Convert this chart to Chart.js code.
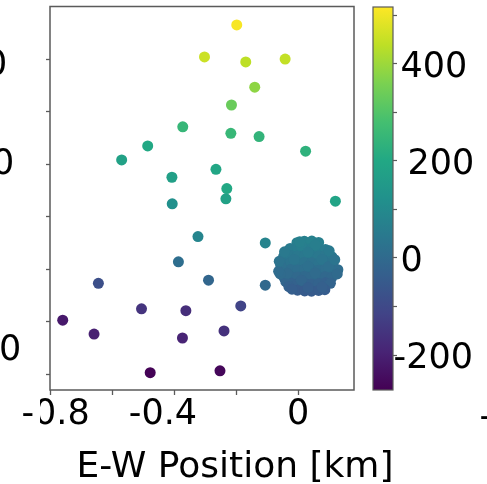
<!DOCTYPE html>
<html lang="en">
<head>
<meta charset="utf-8">
<title>E-W Position</title>
<script src="https://cdn.jsdelivr.net/npm/chart.js@4.4.1/dist/chart.umd.min.js"></script>
<style>
  html, body { margin: 0; padding: 0; background: #fff; }
  body { position: relative; width: 487px; height: 484px; overflow: hidden; font-family: "DejaVu Sans", sans-serif; color: #000; }
  canvas { position: absolute; left: 0; top: 0; }
  .txt { position: absolute; white-space: pre; line-height: 1; font-size: 35px; }
</style>
</head>
<body>
<canvas id="scatter" width="487" height="484"></canvas>
<canvas id="cbar" width="487" height="484"></canvas>

<!-- edges of the neighbouring panels' labels -->
<div class="txt" style="left:-15px; top:46px">0</div>
<div class="txt" style="left:-8px; top:145px">0</div>
<div class="txt" style="left:-1px; top:331px">0</div>
<div class="txt" style="left:479.5px; top:397.5px">-</div>
<div style="position:absolute; left:36px; top:397px; width:4px; height:35px; background:#fff"></div>

<div class="txt" style="left:235px; top:446.5px; font-size:36px; transform:translateX(-50%)">E-W Position [km]</div>

<script>
// outlying events: east, north (km) and colour value
const farX = [-0.198, -0.302, -0.169, -0.042, -0.140, -0.215, -0.372, -0.217, -0.126, 0.024,
              -0.485, -0.569, -0.265, -0.407, -0.230, -0.233, -0.406, 0.120, -0.323, -0.106,
              -0.386, -0.289, -0.106, -0.644, -0.185, -0.505, -0.362, -0.759, -0.239, -0.658,
              -0.373, -0.477, -0.252];
const farY = [0.930, 0.808, 0.789, 0.800, 0.693, 0.625, 0.542, 0.517, 0.505, 0.449,
              0.469, 0.416, 0.380, 0.350, 0.307, 0.268, 0.249, 0.259, 0.124, 0.100,
              0.028, -0.042, -0.061, -0.054, -0.140, -0.151, -0.158, -0.194, -0.235, -0.247,
              -0.262, -0.394, -0.387];
const farVal = [510, 455, 438, 445, 383, 335, 250, 252, 240, 232,
                200, 178, 193, 170, 200, 178, 120, 186, 85, 83,
                12, -12, -4, -83, -114, -154, -169, -217, -162, -201,
                -193, -268, -258];

// the dense cloud around the origin
const coreX = [-0.004, 0.020, 0.044, 0.066,
               -0.026, -0.002, 0.021, 0.043, 0.066, 0.088,
               -0.047, -0.024, -0.002, 0.021, 0.043, 0.066, 0.088, 0.109,
               -0.050, -0.024, -0.002, 0.021, 0.043, 0.066, 0.088, 0.112,
               -0.052, -0.024, -0.002, 0.021, 0.043, 0.066, 0.088, 0.113,
               -0.046, -0.024, -0.002, 0.021, 0.043, 0.066, 0.088, 0.108,
               -0.024, -0.002, 0.021, 0.043, 0.066, 0.088,
               -0.002, 0.021, 0.043, 0.066,
               0.128, 0.126, -0.056, -0.044, -0.040, 0.104, 0.100, 0.086,
               0.010, 0.055, 0.032, 0.077, -0.013, 0.032, 0.055, 0.010, 0.077, -0.035, 0.098, 0.032,
               -0.058, -0.030, 0.118, 0.005, -0.063, -0.061, -0.020];
const coreY = [0.101, 0.106, 0.107, 0.102,
               0.079, 0.080, 0.077, 0.079, 0.078, 0.075,
               0.048, 0.052, 0.050, 0.053, 0.051, 0.050, 0.053, 0.047,
               0.022, 0.025, 0.023, 0.026, 0.024, 0.022, 0.025, 0.021,
               -0.004, -0.001, -0.003, 0.000, -0.002, -0.004, 0.001, -0.003,
               -0.031, -0.028, -0.030, -0.027, -0.029, -0.031, -0.028, -0.032,
               -0.053, -0.056, -0.054, -0.057, -0.055, -0.052,
               -0.080, -0.083, -0.084, -0.081,
               -0.002, -0.018, 0.012, 0.066, -0.047, -0.054, 0.070, -0.078,
               0.090, 0.092, 0.064, 0.037, 0.037, 0.011, -0.015, -0.042, -0.068, -0.016, 0.010, -0.070,
               -0.018, -0.066, 0.036, 0.104, -0.008, 0.030, -0.076];
const coreVal = [66, 70, 71, 67,
                 54, 57, 56, 58, 55, 52,
                 40, 42, 44, 43, 41, 44, 40, 38,
                 26, 27, 28, 27, 25, 29, 26, 24,
                 11, 12, 13, 14, 10, 12, 11, 9,
                 -6, -4, -5, -3, -5, -2, -7, -8,
                 -24, -27, -23, -26, -22, -28,
                 -44, -47, -46, -43,
                 8, 0, 18, 47, -16, -20, 48, -40,
                 62, 64, 50, 33, 35, 19, 3, -14, -33, 2, 16, -35,
                 2, -30, 32, 68, 6, 28, -38];

const xTicks = [-0.8, -0.6, -0.4, -0.2, 0];
const xTickLabels = [' -0.8', '', '-0.4  ', '', '0'];
const yTicks = [-0.4, -0.2, 0, 0.2, 0.4, 0.6, 0.8];

const cbMin = -272, cbMax = 517;
const cbTicks = [-200, -100, 0, 100, 200, 300, 400, 500];
const cbTickLabels = ['-200', '', '\u20090', '', '\u2009\u2009200', '', '\u2009400', ''];

const viridis = ['#440154', '#482475', '#414487', '#355f8d', '#2a788e', '#21918c',
                 '#22a884', '#44bf70', '#7ad151', '#bddf26', '#fde725'];
const spine = '#5a5a5a';

Chart.defaults.font.family = '"DejaVu Sans", sans-serif';
Chart.defaults.color = '#000';

function hexRgb(h) {
  const n = parseInt(h.slice(1), 16);
  return [n >> 16, (n >> 8) & 255, n & 255];
}

function colorFor(v) {
  let t = (v - cbMin) / (cbMax - cbMin);
  t = Math.min(1, Math.max(0, t)) * (viridis.length - 1);
  const i = Math.min(Math.floor(t), viridis.length - 2);
  const f = t - i;
  const a = hexRgb(viridis[i]), b = hexRgb(viridis[i + 1]);
  const c = a.map((ch, k) => Math.round(ch + (b[k] - ch) * f));
  return `rgb(${c[0]},${c[1]},${c[2]})`;
}

const frame = {
  id: 'frame',
  afterDraw(chart) {
    const { ctx, chartArea: a } = chart;
    ctx.save();
    ctx.strokeStyle = spine;
    ctx.lineWidth = 1.5;
    ctx.strokeRect(a.left, a.top, a.right - a.left, a.bottom - a.top);
    ctx.restore();
  }
};

const gradientBar = {
  id: 'gradientBar',
  beforeDatasetsDraw(chart) {
    const { ctx, chartArea: a, scales: { y } } = chart;
    const g = ctx.createLinearGradient(0, y.getPixelForValue(cbMin), 0, y.getPixelForValue(cbMax));
    viridis.forEach((c, i) => g.addColorStop(i / (viridis.length - 1), c));
    ctx.save();
    ctx.fillStyle = g;
    ctx.fillRect(a.left, a.top, a.right - a.left, a.bottom - a.top);
    ctx.strokeStyle = spine;
    ctx.lineWidth = 1.2;
    ctx.strokeRect(a.left, a.top, a.right - a.left, a.bottom - a.top);
    ctx.restore();
  }
};

const tickFont = { size: 35, lineHeight: 1 };

new Chart(document.getElementById('scatter'), {
  type: 'scatter',
  data: {
    datasets: [
      {
        data: farX.map((x, i) => ({ x, y: farY[i] })),
        pointBackgroundColor: farVal.map(colorFor)
      },
      {
        data: coreX.map((x, i) => ({ x, y: coreY[i] })),
        pointBackgroundColor: coreVal.map(colorFor)
      }
    ]
  },
  options: {
    responsive: false,
    animation: false,
    devicePixelRatio: 1,
    events: [],
    layout: { padding: { left: 0, top: 6.5, right: 133, bottom: 0 } },
    elements: { point: { radius: 5.5, hoverRadius: 5.5, borderWidth: 0 } },
    plugins: { legend: { display: false }, tooltip: { enabled: false } },
    scales: {
      x: {
        type: 'linear',
        min: -0.8,
        max: 0.18,
        border: { display: false },
        grid: { drawOnChartArea: false, tickLength: 5, tickColor: spine, tickWidth: 1.3 },
        ticks: { font: tickFont, padding: 2, maxRotation: 0, autoSkip: false,
                 callback: (v, i) => xTickLabels[i] },
        afterBuildTicks: s => { s.ticks = xTicks.map(value => ({ value })); },
        afterFit: s => { s.height = 94; }
      },
      y: {
        type: 'linear',
        min: -0.46,
        max: 1.0,
        border: { display: false },
        grid: { drawOnChartArea: false, tickLength: 4, tickColor: spine, tickWidth: 1.3 },
        ticks: { display: false },
        afterBuildTicks: s => { s.ticks = yTicks.map(value => ({ value })); },
        afterFit: s => { s.width = 50; }
      }
    }
  },
  plugins: [frame]
});

// colour scale
new Chart(document.getElementById('cbar'), {
  type: 'scatter',
  data: { datasets: [] },
  options: {
    responsive: false,
    animation: false,
    devicePixelRatio: 1,
    events: [],
    layout: { padding: { left: 373, top: 7, right: 0, bottom: 94 } },
    plugins: { legend: { display: false }, tooltip: { enabled: false } },
    scales: {
      x: { display: false },
      y: {
        position: 'right',
        min: cbMin,
        max: cbMax,
        border: { display: false },
        grid: { drawOnChartArea: false, tickLength: 4, tickColor: spine, tickWidth: 1.2 },
        ticks: { font: tickFont, padding: -3.5, labelOffset: 4, callback: (v, i) => cbTickLabels[i] },
        afterBuildTicks: s => { s.ticks = cbTicks.map(value => ({ value })); },
        afterFit: s => {
          s.width = 94;
          s.paddingTop = 0;
          s.paddingBottom = 0;
        }
      }
    }
  },
  plugins: [gradientBar]
});
</script>
</body>
</html>
